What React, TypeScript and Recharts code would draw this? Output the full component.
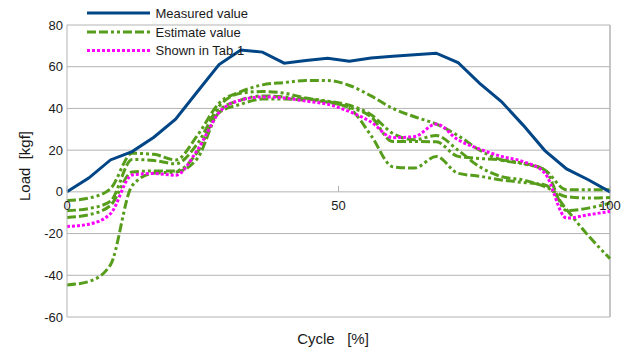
import React from 'react';
import { LineChart, Line, XAxis, YAxis, CartesianGrid, ReferenceLine, Legend } from 'recharts';

const cycle = [0, 4, 8, 12, 16, 20, 24, 28, 32, 36, 40, 44, 48, 52, 56, 60, 64, 68, 72, 76, 80, 84, 88, 92, 96, 100];
const measured = [0, 6.6, 15.3, 19.3, 26.2, 34.8, 48, 61, 68, 67, 61.7, 63, 64, 62.6, 64.2, 65, 65.7, 66.5, 62, 52, 43.3, 32, 19.8, 11, 5.8, 0];
const estimateA = [-4.2, -3, 1.5, 18.5, 18, 15.3, 27, 42.5, 48, 51.3, 52.4, 53.4, 53.4, 51, 46, 40, 36, 32.5, 27, 20, 15.3, 13.5, 10.5, 1, 1, 1];
const estimateB = [-9, -8, -4.5, 15.5, 15, 13.5, 23, 41, 47.3, 48.1, 47.3, 45, 43.3, 40.5, 36, 24.1, 24.1, 24, 17, 16, 15.3, 13.7, 10.5, -9, -7.8, -5.4];
const estimateC = [-12.3, -11, -6.5, 9.5, 10, 10, 19, 39, 44, 46, 45.5, 44.5, 43.5, 41.5, 37, 28, 25, 27, 20, 12, 7.3, 5.7, 2.5, -2.3, -3, -2.7];
const estimateD = [-44.6, -43, -35, 3, 9, 9.5, 16, 38, 42, 44.5, 44.5, 44, 43, 40, 27, 12, 11.4, 17, 8.9, 7.5, 5.7, 4.5, 3.3, -8.5, -21, -32];
const shownTab1 = [-16.6, -15.5, -10.5, 8.1, 8.8, 8, 20, 38, 44, 45.5, 45, 43.5, 42, 38.5, 33.5, 26, 26.5, 32.5, 25, 20.5, 17, 14.5, 9, -12.6, -11, -9.4];

const yTicks = [-60, -40, -20, 0, 20, 40, 60, 80];
const xTicks = [0, 50, 100];
const legendNames = ['Measured value', 'Estimate value', 'Shown in Tab.1'];

const Y_MIN = -60;
const Y_MAX = 80;
const CHART_W = 624;
const CHART_H = 339;
const MARGIN_TOP = 17;
const XAXIS_H = 30;
const PLOT_H = CHART_H - MARGIN_TOP - XAXIS_H;

const BLUE = '#004586';
const GREEN = '#579d1c';
const MAGENTA = '#ff00ff';
const GRID = '#b3b3b3';
const FONT = '"Liberation Sans", Arial, sans-serif';
const GREEN_DASH = '9 3 9 3 3 3 3 3';
const MAGENTA_DASH = '3 2';

const data = cycle.map((c, i) => ({
  cycle: c,
  measured: measured[i],
  estA: estimateA[i],
  estB: estimateB[i],
  estC: estimateC[i],
  estD: estimateD[i],
  tab1: shownTab1[i],
}));

const XTick = (props: any) => {
  const { x, y, payload } = props;
  const zeroY = y - ((0 - Y_MIN) / (Y_MAX - Y_MIN)) * PLOT_H;
  return (
    <g>
      <line x1={x} x2={x} y1={zeroY - 6} y2={zeroY} stroke={GRID} strokeWidth={1} />
      <text x={x} y={zeroY + 18} textAnchor="middle" fontSize={13} fontFamily={FONT} fill="#1a1a1a">
        {payload.value}
      </text>
    </g>
  );
};

const legendStyles = [
  { color: BLUE, dash: undefined },
  { color: GREEN, dash: GREEN_DASH },
  { color: MAGENTA, dash: MAGENTA_DASH },
];

const LegendContent = () => {
  const rows = [5, 24, 42.5];
  return (
    <svg width={300} height={56} style={{ display: 'block', overflow: 'visible' }}>
      {legendNames.map((name, i) => (
        <g key={name}>
          <line
            x1={79}
            x2={142}
            y1={rows[i]}
            y2={rows[i]}
            stroke={legendStyles[i].color}
            strokeWidth={3}
            strokeDasharray={legendStyles[i].dash}
          />
          <text x={147.5} y={rows[i]} dy="0.35em" fontSize={13} fontFamily={FONT} fill="#1a1a1a">
            {name}
          </text>
        </g>
      ))}
    </svg>
  );
};

export default function App() {
  return (
    <div style={{ width: CHART_W, height: CHART_H }}>
      <LineChart
        width={CHART_W}
        height={CHART_H}
        data={data}
        margin={{ top: MARGIN_TOP, right: 22, bottom: 0, left: 0 }}
        style={{ fontFamily: FONT }}
      >
        <CartesianGrid vertical={false} stroke={GRID} strokeWidth={1} />
        <XAxis
          dataKey="cycle"
          type="number"
          domain={[0, 100]}
          ticks={xTicks}
          height={XAXIS_H}
          axisLine={false}
          tickLine={false}
          tickSize={0}
          tickMargin={0}
          tick={<XTick />}
          interval={0}
          label={{
            content: (p: any) => {
              const vb = p.viewBox;
              const cx = vb.x + vb.width / 2 - 5.5;
              return (
                <text x={cx} y={vb.y + 27} textAnchor="middle" fontSize={15} fontFamily={FONT} fill="#1a1a1a">
                  {'Cycle\u00A0\u00A0\u00A0[%]'}
                </text>
              );
            },
          }}
        />
        <YAxis
          type="number"
          domain={[Y_MIN, Y_MAX]}
          ticks={yTicks}
          width={59}
          axisLine={{ stroke: GRID, strokeWidth: 1 }}
          tickLine={false}
          tickSize={2}
          tickMargin={2}
          interval={0}
          tick={{ fontSize: 13, fill: '#1a1a1a', fontFamily: FONT }}
          label={{
            content: (p: any) => {
              const vb = p.viewBox;
              const cx = vb.x + 17;
              const cy = vb.y + vb.height / 2 - 5;
              return (
                <text
                  x={cx}
                  y={cy}
                  dy="0.35em"
                  transform={`rotate(-90 ${cx} ${cy})`}
                  textAnchor="middle"
                  fontSize={15}
                  fontFamily={FONT}
                  fill="#1a1a1a"
                >
                  {'Load\u00A0\u00A0[kgf]'}
                </text>
              );
            },
          }}
        />
        <ReferenceLine x={100} stroke={GRID} strokeWidth={1.5} />
        <Legend
          layout="horizontal"
          verticalAlign="middle"
          align="center"
          wrapperStyle={{ left: 0, top: 0, width: 300, height: 56 }}
          content={<LegendContent />}
        />
        <Line dataKey="estA" type="monotone" stroke={GREEN} strokeWidth={3} strokeDasharray={GREEN_DASH} dot={false} isAnimationActive={false} legendType="none" />
        <Line dataKey="estB" type="monotone" stroke={GREEN} strokeWidth={3} strokeDasharray={GREEN_DASH} dot={false} isAnimationActive={false} legendType="none" />
        <Line dataKey="estC" type="monotone" stroke={GREEN} strokeWidth={3} strokeDasharray={GREEN_DASH} dot={false} isAnimationActive={false} legendType="none" />
        <Line dataKey="estD" type="monotone" stroke={GREEN} strokeWidth={3} strokeDasharray={GREEN_DASH} dot={false} isAnimationActive={false} legendType="none" />
        <Line dataKey="tab1" type="monotone" stroke={MAGENTA} strokeWidth={3} strokeDasharray={MAGENTA_DASH} dot={false} isAnimationActive={false} legendType="none" />
        <Line dataKey="measured" type="linear" stroke={BLUE} strokeWidth={3} dot={false} isAnimationActive={false} legendType="none" />
      </LineChart>
    </div>
  );
}
